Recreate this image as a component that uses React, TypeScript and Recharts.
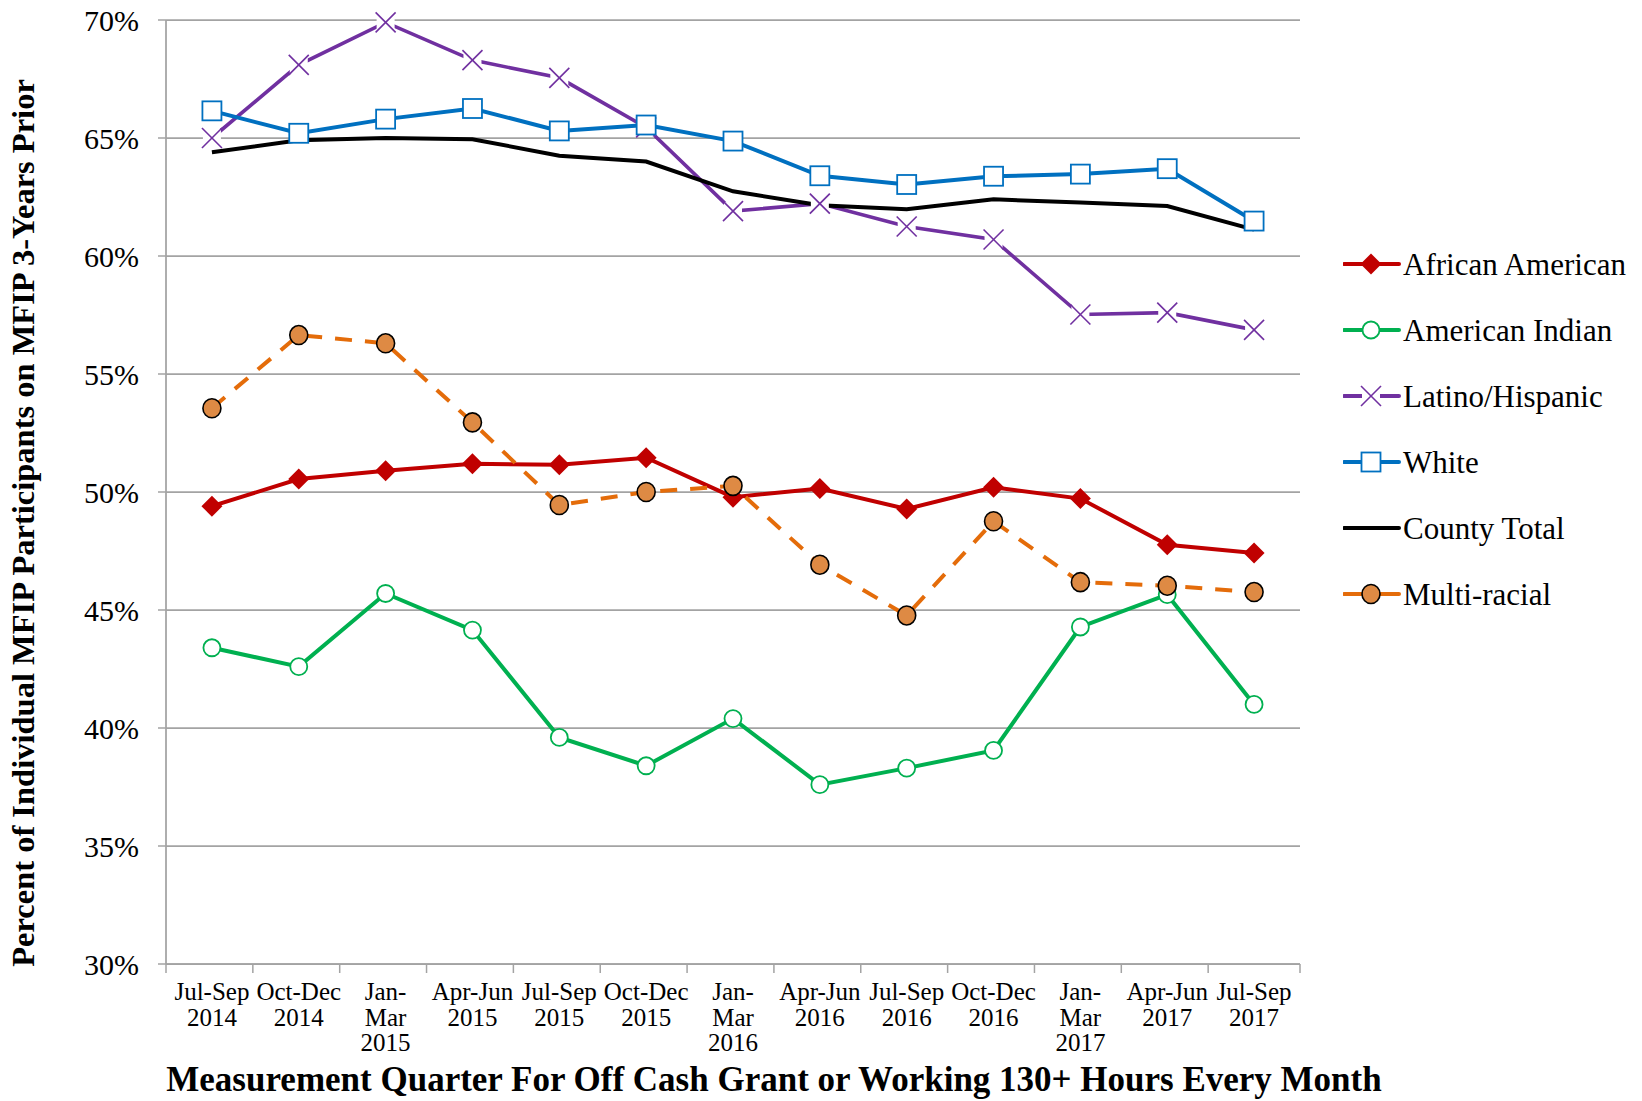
import React from 'react';
import { LineChart, Line, XAxis, YAxis, CartesianGrid, Legend } from 'recharts';

// ---------- data ----------
const quarters = [
  'Jul-Sep 2014', 'Oct-Dec 2014', 'Jan-Mar 2015', 'Apr-Jun 2015', 'Jul-Sep 2015',
  'Oct-Dec 2015', 'Jan-Mar 2016', 'Apr-Jun 2016', 'Jul-Sep 2016', 'Oct-Dec 2016',
  'Jan-Mar 2017', 'Apr-Jun 2017', 'Jul-Sep 2017',
];
const quarterLabelLines = [
  ['Jul-Sep', '2014'], ['Oct-Dec', '2014'], ['Jan-', 'Mar', '2015'], ['Apr-Jun', '2015'],
  ['Jul-Sep', '2015'], ['Oct-Dec', '2015'], ['Jan-', 'Mar', '2016'], ['Apr-Jun', '2016'],
  ['Jul-Sep', '2016'], ['Oct-Dec', '2016'], ['Jan-', 'Mar', '2017'], ['Apr-Jun', '2017'],
  ['Jul-Sep', '2017'],
];
const africanAmerican = [49.4, 50.55, 50.9, 51.2, 51.15, 51.45, 49.78, 50.15, 49.28, 50.2, 49.72, 47.76, 47.42];
const americanIndian = [43.4, 42.6, 45.7, 44.15, 39.6, 38.4, 40.4, 37.6, 38.3, 39.05, 44.28, 45.65, 41.0];
const latinoHispanic = [65.0, 68.1, 69.9, 68.3, 67.55, 65.45, 61.9, 62.22, 61.25, 60.7, 57.52, 57.6, 56.87];
const white = [66.15, 65.2, 65.8, 66.25, 65.3, 65.55, 64.87, 63.4, 63.03, 63.38, 63.47, 63.7, 61.48];
const countyTotal = [64.4, 64.9, 65.0, 64.95, 64.25, 64.0, 62.74, 62.15, 61.98, 62.4, 62.27, 62.12, 61.12];
const multiRacial = [53.55, 56.65, 56.3, 52.95, 49.45, 50.0, 50.26, 46.92, 44.77, 48.76, 46.18, 46.03, 45.76];
const yTicks = [30, 35, 40, 45, 50, 55, 60, 65, 70];

const seriesNames = ['African American', 'American Indian', 'Latino/Hispanic', 'White', 'County Total', 'Multi-racial'];
const Y_TITLE = 'Percent of Individual MFIP Participants on MFIP 3-Years Prior';
const X_TITLE = 'Measurement Quarter For Off Cash Grant or Working 130+ Hours Every Month';

const data = quarters.map((q, i) => ({
  quarter: q,
  aa: africanAmerican[i],
  ai: americanIndian[i],
  lat: latinoHispanic[i],
  wh: white[i],
  ct: countyTotal[i],
  mr: multiRacial[i],
}));

// ---------- styles ----------
const FONT = "'Liberation Serif', 'Times New Roman', serif";
const GRID = '#A3A3A3';
const CHART_W = 1626;
const CHART_H = 1093;
const MARGIN = { top: 12, right: 334, bottom: 107, left: 98 };
const PLOT_W = CHART_W - MARGIN.left - MARGIN.right;
const HALF_BAND = PLOT_W / quarters.length / 2;

type Kind = 'diamond' | 'openCircle' | 'x' | 'square' | 'none' | 'dot';

const seriesCfg: { key: string; name: string; color: string; kind: Kind; dash?: string; width: number }[] = [
  { key: 'aa', name: seriesNames[0], color: '#C00000', kind: 'diamond', width: 4 },
  { key: 'ai', name: seriesNames[1], color: '#00B050', kind: 'openCircle', width: 4 },
  { key: 'lat', name: seriesNames[2], color: '#7030A0', kind: 'x', width: 3.6 },
  { key: 'wh', name: seriesNames[3], color: '#0070C0', kind: 'square', width: 4 },
  { key: 'ct', name: seriesNames[4], color: '#000000', kind: 'none', width: 4 },
  { key: 'mr', name: seriesNames[5], color: '#E46C0A', kind: 'dot', dash: '17 13', width: 4 },
];

const Marker = ({ kind, cx, cy, color }: { kind: Kind; cx: number; cy: number; color: string }) => {
  switch (kind) {
    case 'diamond':
      return (
        <polygon
          points={`${cx},${cy - 10.5} ${cx + 10.5},${cy} ${cx},${cy + 10.5} ${cx - 10.5},${cy}`}
          fill={color}
        />
      );
    case 'openCircle':
      return <circle cx={cx} cy={cy} r={8.5} fill="#fff" stroke={color} strokeWidth={1.8} />;
    case 'x':
      return (
        <g>
          <rect x={cx - 9} y={cy - 9} width={18} height={18} fill="#fff" />
          <line x1={cx - 10} y1={cy - 10} x2={cx + 10} y2={cy + 10} stroke={color} strokeWidth={1.6} />
          <line x1={cx - 10} y1={cy + 10} x2={cx + 10} y2={cy - 10} stroke={color} strokeWidth={1.6} />
        </g>
      );
    case 'square':
      return <rect x={cx - 9.5} y={cy - 9.5} width={19} height={19} fill="#fff" stroke={color} strokeWidth={1.8} />;
    case 'dot':
      return <ellipse cx={cx} cy={cy} rx={9} ry={9.5} fill="#DE8A44" stroke="#000" strokeWidth={1.6} />;
    default:
      return null;
  }
};

const makeDot = (kind: Kind, color: string) => (props: any) => {
  const { cx, cy, index } = props;
  if (cx == null || cy == null) return <g key={`${kind}-${index}`} />;
  return (
    <g key={`${kind}-${index}`}>
      <Marker kind={kind} cx={cx} cy={cy} color={color} />
    </g>
  );
};

const XTick = (props: any) => {
  const { x, y, payload } = props;
  const idx = quarters.indexOf(payload.value);
  const lines = quarterLabelLines[idx] || [payload.value];
  return (
    <g>
      <line x1={x - HALF_BAND} x2={x - HALF_BAND} y1={y} y2={y + 9} stroke={GRID} strokeWidth={1.5} />
      {idx === quarters.length - 1 && (
        <line x1={x + HALF_BAND} x2={x + HALF_BAND} y1={y} y2={y + 9} stroke={GRID} strokeWidth={1.5} />
      )}
      {lines.map((ln: string, i: number) => (
        <text key={i} x={x} y={y + 36 + i * 25.5} textAnchor="middle" fontFamily={FONT} fontSize={25} fill="#000">
          {ln}
        </text>
      ))}
    </g>
  );
};

const XTitle = (props: any) => {
  const vb = props.viewBox || { x: MARGIN.left + 60, y: 956, width: PLOT_W, height: 30 };
  return (
    <text
      x={vb.x + vb.width / 2 + 41}
      y={vb.y + 127}
      textAnchor="middle"
      fontFamily={FONT}
      fontWeight="bold"
      fontSize={35}
      fill="#000"
    >
      {X_TITLE}
    </text>
  );
};

const YTitle = (props: any) => {
  const vb = props.viewBox || { x: MARGIN.left, y: MARGIN.top, width: 60, height: 944 };
  const x = vb.x - 72;
  const y = vb.y + vb.height / 2 + 31;
  return (
    <text
      x={x}
      y={y}
      transform={`rotate(-90, ${x}, ${y})`}
      textAnchor="middle"
      fontFamily={FONT}
      fontWeight="bold"
      fontSize={32.5}
      fill="#000"
    >
      {Y_TITLE}
    </text>
  );
};

const renderLegend = (props: any) => {
  const payload = (props.payload || []) as any[];
  const present = new Set(payload.map((p: any) => p.value));
  const items = seriesCfg.filter((s) => present.size === 0 || present.has(s.name));
  return (
    <div style={{ position: 'relative', width: 300, height: 400 }}>
      {items.map((cfg, i: number) => (
        <div
          key={cfg.name}
          style={{ position: 'absolute', left: 0, top: i * 66, height: 66, display: 'flex', alignItems: 'center' }}
        >
          <svg width={60} height={30} style={{ display: 'block' }}>
            <line x1={1} x2={56} y1={15} y2={15} stroke={cfg.color} strokeWidth={4} strokeLinecap="round" />
            <Marker kind={cfg.kind} cx={28} cy={15} color={cfg.color} />
          </svg>
          <span style={{ fontFamily: FONT, fontSize: 31, color: '#000', whiteSpace: 'nowrap', lineHeight: '31px' }}>
            {cfg.name}
          </span>
        </div>
      ))}
    </div>
  );
};

export default function App() {
  return (
    <div style={{ width: CHART_W, height: CHART_H }}>
      <style>{'html, body { overflow: hidden; }'}</style>
      <LineChart width={CHART_W} height={CHART_H} data={data} margin={MARGIN}>
        <CartesianGrid horizontal vertical={false} stroke={GRID} strokeWidth={1.75} />
        <XAxis
          dataKey="quarter"
          type="category"
          padding={{ left: HALF_BAND, right: HALF_BAND }}
          axisLine={{ stroke: GRID, strokeWidth: 1.75 }}
          tickLine={false}
          tickSize={0}
          tickMargin={0}
          height={30}
          interval={0}
          tick={<XTick />}
          label={<XTitle />}
        />
        <YAxis
          type="number"
          domain={[30, 70]}
          ticks={yTicks}
          interval={0}
          width={60}
          tickFormatter={(v: number) => `${v}%`}
          axisLine={{ stroke: GRID, strokeWidth: 1.75 }}
          tickLine={{ stroke: GRID, strokeWidth: 1.5 }}
          tickSize={8}
          tickMargin={19}
          tick={{ fontFamily: FONT, fontSize: 30, fill: '#000' }}
          label={<YTitle />}
        />
        <Legend
          layout="vertical"
          align="center"
          verticalAlign="middle"
          content={renderLegend}
          wrapperStyle={{ left: 1335, top: 223, width: 300, height: 400 }}
        />
        {seriesCfg.map((s) => (
          <Line
            key={s.key}
            type="linear"
            dataKey={s.key}
            name={s.name}
            stroke={s.color}
            strokeWidth={s.width}
            strokeDasharray={s.dash}
            dot={s.kind === 'none' ? false : makeDot(s.kind, s.color)}
            activeDot={false}
            isAnimationActive={false}
            legendType="line"
          />
        ))}
      </LineChart>
    </div>
  );
}
